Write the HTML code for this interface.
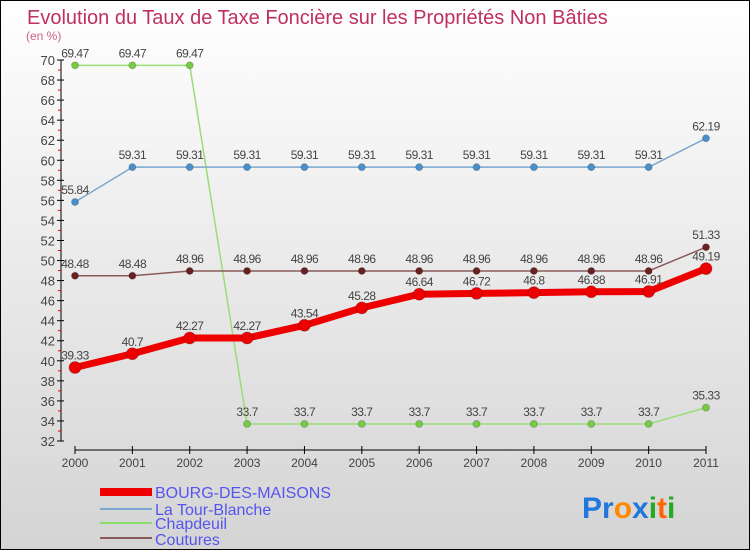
<!DOCTYPE html>
<html><head><meta charset="utf-8"><style>
body{margin:0}
#c{width:750px;height:550px;position:relative;overflow:hidden}
text{font-family:"Liberation Sans",sans-serif}
</style></head><body>
<div id="c">
<svg id="s" width="750" height="550" xmlns="http://www.w3.org/2000/svg">
<defs><linearGradient id="bg" x1="0" y1="0" x2="0" y2="1"><stop offset="0" stop-color="#ffffff"/><stop offset="1" stop-color="#d4d4d4"/></linearGradient></defs>
<rect x="0.5" y="0.5" width="749" height="549" fill="url(#bg)" stroke="#000"/>
<text x="27" y="24" font-size="20" fill="#c0305f">Evolution du Taux de Taxe Foncière sur les Propriétés Non Bâties</text>
<text x="26" y="40" font-size="12" fill="#d06080">(en %)</text>
<g id="axes"></g><g id="series"></g>
<g>
<rect x="100" y="488" width="52" height="8" fill="#e00"/>
<text x="155" y="498" font-size="16" fill="#5555ee">BOURG-DES-MAISONS</text>
<rect x="100" y="508" width="52" height="2" fill="#7aa8d0"/>
<text x="155" y="515" font-size="16" fill="#5555ee">La Tour-Blanche</text>
<rect x="100" y="522" width="52" height="2" fill="#88dd66"/>
<text x="155" y="529" font-size="16" fill="#5555ee">Chapdeuil</text>
<rect x="100" y="537" width="52" height="2" fill="#8a5a5a"/>
<text x="155" y="545" font-size="16" fill="#5555ee">Coutures</text>
</g>
<g font-size="30" font-weight="bold">
<text x="582" y="518"><tspan fill="#2277dd">Pr</tspan><tspan fill="#ff8800">o</tspan><tspan fill="#2277dd">x</tspan><tspan fill="#22aa22">i</tspan><tspan fill="#ff6600">t</tspan><tspan fill="#22aa22">i</tspan></text>
</g>
</svg></div>
<script>
const years=["2000","2001","2002","2003","2004","2005","2006","2007","2008","2009","2010","2011"];
const bourg=[39.33,40.7,42.27,42.27,43.54,45.28,46.64,46.72,46.8,46.88,46.91,49.19];
const tour=[55.84,59.31,59.31,59.31,59.31,59.31,59.31,59.31,59.31,59.31,59.31,62.19];
const chap=[69.47,69.47,69.47,33.7,33.7,33.7,33.7,33.7,33.7,33.7,33.7,35.33];
const cout=[48.48,48.48,48.96,48.96,48.96,48.96,48.96,48.96,48.96,48.96,48.96,51.33];
const yTicks=[32,34,36,38,40,42,44,46,48,50,52,54,56,58,60,62,64,66,68,70];
const NS="http://www.w3.org/2000/svg";
const X=i=>75+i*(706-75)/(years.length-1);
const Y=v=>60+(70-v)*(441-60)/38;
function mk(t,a,p){const e=document.createElementNS(NS,t);for(const k in a)e.setAttribute(k,a[k]);p.appendChild(e);return e;}
const ax=document.getElementById('axes');
let l=mk('line',{x1:61,y1:Y(70),x2:61,y2:Y(32),stroke:'#000'},ax);


yTicks.forEach(v=>{
 mk('line',{x1:57,y1:Y(v),x2:64,y2:Y(v),stroke:'#000'},ax);
 mk('line',{x1:58,y1:Y(v+1),x2:61,y2:Y(v+1),stroke:v<70?'#e00':'none'},ax);
 const t=mk('text',{x:55,y:Y(v)+5,'font-size':13,fill:'#444','text-anchor':'end'},ax);t.textContent=v;
 
 
});
l=mk('line',{x1:X(0),y1:450,x2:X(11),y2:450,stroke:'#000'},ax);


years.forEach((y,i)=>{
 mk('line',{x1:X(i),y1:446,x2:X(i),y2:454,stroke:'#000'},ax);
 const t=mk('text',{x:X(i),y:467,'font-size':12,fill:'#444','text-anchor':'middle'},ax);t.textContent=y;
 
 
});
const sg=document.getElementById('series');
function series(name,vals,col,w,r,dot,lab){
 const g=mk('g',{},sg);
 
 
 mk('polyline',{points:vals.map((v,i)=>X(i)+','+Y(v)).join(' '),fill:'none',stroke:col,'stroke-width':w,'stroke-linejoin':'round'},g);
 vals.forEach((v,i)=>{
  const c=mk('circle',{cx:X(i),cy:Y(v),r:r,fill:dot,stroke:'#0003'},g);
  
  
  const t=mk('text',{x:X(i),y:Y(v)-8,'font-size':12,fill:'#444','text-anchor':'middle','letter-spacing':'-0.5'},g);
  t.textContent=String(v);
  
  
 });
}
series('chapdeuil',chap,'#99dd77',1.5,3.5,'#77cc44');
series('tour',tour,'#7aa8d0',1.5,3.5,'#4a90cc');
series('coutures',cout,'#8a5a5a',1.5,3.5,'#6a2020');
series('bourg',bourg,'#ee0000',7,6,'#ee0000');
</script>
</body></html>
